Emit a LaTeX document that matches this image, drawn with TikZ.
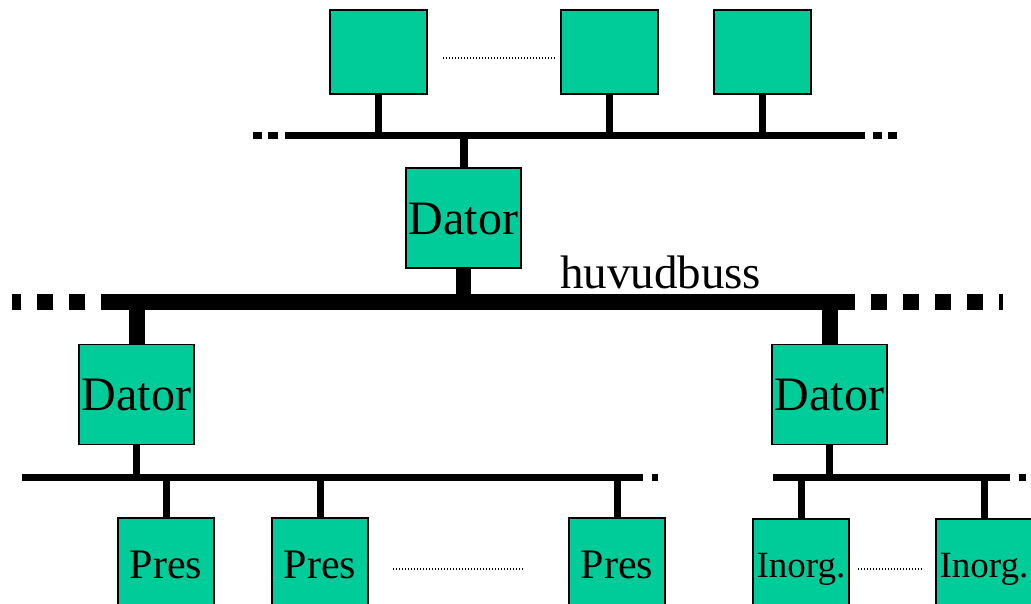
\documentclass[tikz,border=0pt]{standalone}
\usepackage{fontspec}
\setmainfont{Liberation Serif}
\definecolor{boxgreen}{RGB}{0,204,153}
\begin{document}
\begin{tikzpicture}[x=1pt,y=-1pt,
  unit/.style={draw=black,line width=1.2pt,fill=boxgreen,inner sep=0pt,
    text depth=0pt},
  topunit/.style={unit,minimum width=97pt,minimum height=84pt},
  dator/.style={unit,minimum width=115pt,minimum height=100pt,
    font=\fontsize{48}{56}\selectfont,text height=32pt},
  leaf/.style={unit,minimum width=96pt,minimum height=92pt},
  presunit/.style={leaf,font=\fontsize{42}{50}\selectfont,text height=28pt},
  inunit/.style={leaf,font=\fontsize{37}{44}\selectfont,text height=24.5pt},
  wire/.style={line width=7pt,line cap=butt},
  bus/.style={line width=7pt,line cap=butt},
  mainbus/.style={line width=16pt,line cap=butt},
  dots/.style={line width=1.2pt,dash pattern=on 1.2pt off 1.8pt}
]
\useasboundingbox (0,0) rectangle (1031,603);

% top row of units
\node[topunit] (t1) at (378.5,52) {};
\node[topunit] (t2) at (609.5,52) {};
\node[topunit] (t3) at (762.5,52) {};
\coordinate (tdotA) at (443,58);
\coordinate (tdotB) at (556,58);
\draw[dots] (tdotA) -- (tdotB);

% top bus
\coordinate (tbusL) at (285,135.5);
\coordinate (tbusR) at (865,135.5);
\coordinate (tdashL1) at (278,135.5);
\coordinate (tdashL2) at (253,135.5);
\coordinate (tdashR1) at (873,135.5);
\coordinate (tdashR2) at (897,135.5);
\draw[bus] (tbusL) -- (tbusR);
\draw[bus,dash pattern=on 10pt off 6pt] (tdashL1) -- (tdashL2);
\draw[bus,dash pattern=on 9pt off 6pt] (tdashR1) -- (tdashR2);
\foreach \n in {t1,t2,t3}
  \draw[wire] (\n.south) -- (\n.south |- tbusL);

% gateway computer
\node[dator] (dtop) at (463.5,218) {Dator};
\draw[line width=8pt] (dtop.north) -- (dtop.north |- tbusL);

% main bus
\coordinate (mbusL) at (117,301.5);
\coordinate (mbusR) at (839,301.5);
\coordinate (mdashL) at (12,301.5);
\coordinate (mdashR) at (1003,301.5);
\draw[mainbus] (mbusL) -- (mbusR);
\draw[mainbus,dash pattern=on 16pt off 16pt] (mbusL) -- (mdashL);
\draw[mainbus,dash pattern=on 16pt off 16pt] (mbusR) -- (mdashR);
\draw[line width=15pt] (dtop.south) -- (dtop.south |- mbusL);
\node[anchor=base west,inner sep=0pt,font=\fontsize{47}{56}\selectfont]
  (hb) at (560,288) {huvudbuss};

% second-level computers
\node[dator] (dl) at (136.5,394.5) {Dator};
\node[dator] (dr) at (829.5,394.5) {Dator};
\draw[mainbus] (dl.north) -- (dl.north |- mbusL);
\draw[mainbus] (dr.north) -- (dr.north |- mbusL);

% left sub-bus with presentation units
\coordinate (lbusL) at (22,477.5);
\coordinate (lbusR) at (637,477.5);
\coordinate (ldashR) at (660,477.5);
\draw[bus] (lbusL) -- (lbusR);
\draw[bus,dash pattern=on 6pt off 9pt] (lbusR) -- (ldashR);
\draw[wire] (dl.south) -- (dl.south |- lbusL);
\node[presunit] (p1) at (166,564) {Pres};
\node[presunit] (p2) at (320,564) {Pres};
\node[presunit] (p3) at (617,564) {Pres};
\foreach \n in {p1,p2,p3}
  \draw[wire] (\n.north) -- (\n.north |- lbusL);
\coordinate (pdotA) at (393,569);
\coordinate (pdotB) at (524,569);
\draw[dots] (pdotA) -- (pdotB);

% right sub-bus with input units
\coordinate (rbusL) at (773,477.5);
\coordinate (rbusR) at (1003,477.5);
\coordinate (rdashR) at (1027,477.5);
\draw[bus] (rbusL) -- (rbusR);
\draw[bus,dash pattern=on 7pt off 9pt] (rbusR) -- (rdashR);
\draw[wire] (dr.south) -- (dr.south |- rbusL);
\node[inunit] (i1) at (801,565) {Inorg.};
\node[inunit] (i2) at (984,565) {Inorg.};
\foreach \n in {i1,i2}
  \draw[wire] (\n.north) -- (\n.north |- rbusL);
\coordinate (idotA) at (858,569);
\coordinate (idotB) at (922,569);
\draw[dots] (idotA) -- (idotB);
\end{tikzpicture}
\end{document}
